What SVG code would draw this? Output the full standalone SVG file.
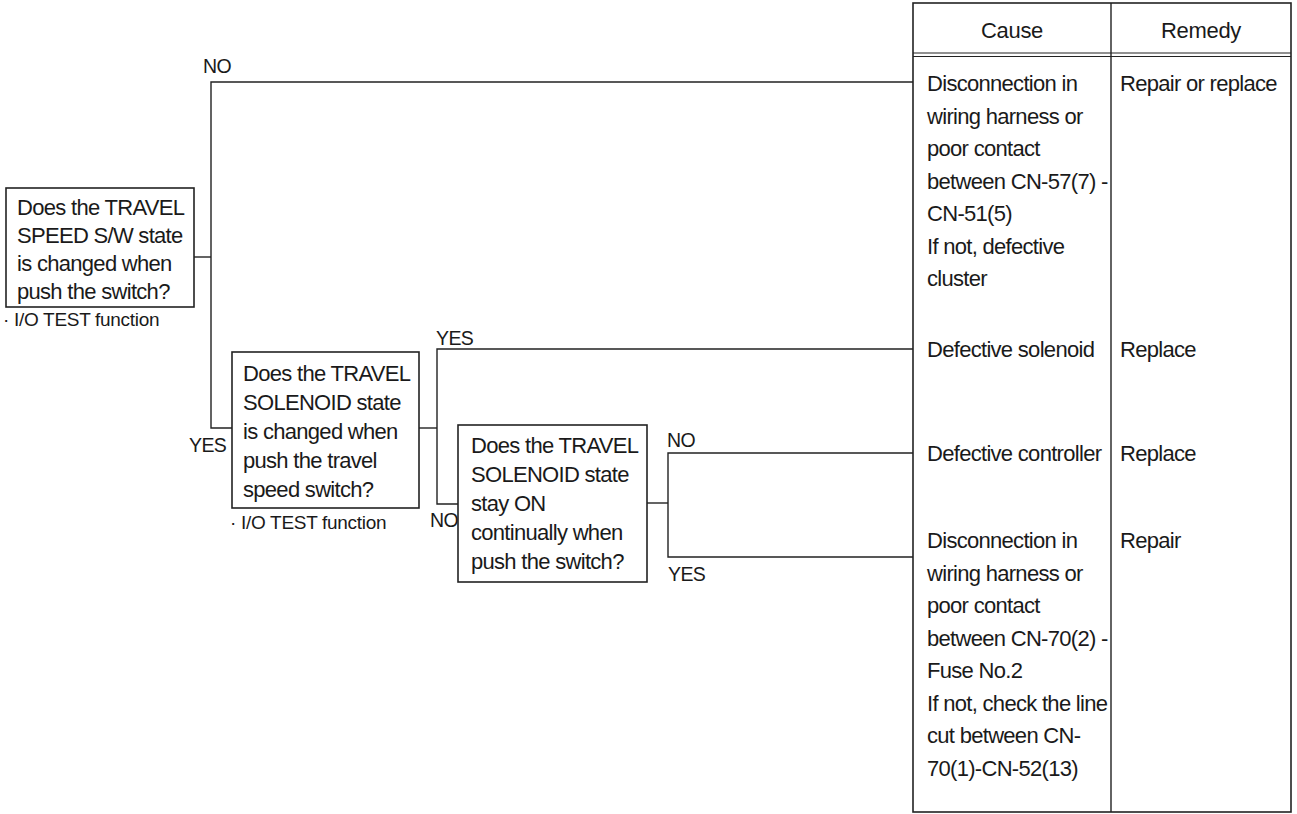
<svg xmlns="http://www.w3.org/2000/svg" width="1297" height="814" viewBox="0 0 1297 814">
<style>
.bx{fill:#fff;stroke:#222;stroke-width:1.6}
.ln{fill:none;stroke:#222;stroke-width:1.4}
.t{font-family:"Liberation Sans",Arial,Helvetica,sans-serif;font-size:22px;fill:#1a1a1a;letter-spacing:-0.7px}
.h{font-family:"Liberation Sans",Arial,Helvetica,sans-serif;font-size:22px;fill:#1a1a1a;text-anchor:middle;letter-spacing:-0.3px}
.s{font-family:"Liberation Sans",Arial,Helvetica,sans-serif;font-size:19px;fill:#1a1a1a;letter-spacing:-0.3px}
.l{font-family:"Liberation Sans",Arial,Helvetica,sans-serif;font-size:19.5px;fill:#1a1a1a;letter-spacing:-0.6px}
</style>
<rect width="1297" height="814" fill="#fff"/>
<g id="table">
<rect class="bx" x="913" y="3" width="378" height="809"/>
<line class="ln" x1="1111" y1="3" x2="1111" y2="812"/>
<line class="ln" x1="913" y1="53" x2="1291" y2="53" style="stroke-width:1"/>
<line class="ln" x1="913" y1="56.5" x2="1291" y2="56.5" style="stroke-width:1"/>
<text class="h" x="1012" y="38">Cause</text>
<text class="h" x="1201" y="38">Remedy</text>
</g>
<g id="connectors">
<polyline class="ln" points="194,257 211,257"/>
<polyline class="ln" points="913,82 211,82 211,428 232,428"/>
<polyline class="ln" points="419,428 437,428"/>
<polyline class="ln" points="913,349 437,349 437,504 458,504"/>
<polyline class="ln" points="647,503 668,503"/>
<polyline class="ln" points="913,453 668,453 668,557 913,557"/>
</g>
<g id="labels">
<text class="l" x="203" y="73">NO</text>
<text class="l" x="189" y="452">YES</text>
<text class="l" x="436" y="345">YES</text>
<text class="l" x="430" y="527">NO</text>
<text class="l" x="667" y="447">NO</text>
<text class="l" x="668" y="581">YES</text>
</g>
<g id="q1">
<rect class="bx" x="6" y="188" width="188" height="119"/>
<text class="t" x="17" y="215">Does the TRAVEL</text>
<text class="t" x="17" y="243">SPEED S/W state</text>
<text class="t" x="17" y="271">is changed when</text>
<text class="t" x="17" y="299">push the switch?</text>
<text class="s" x="3" y="326">· I/O TEST function</text>
</g>
<g id="q2">
<rect class="bx" x="232" y="352" width="187" height="156"/>
<text class="t" x="243" y="381">Does the TRAVEL</text>
<text class="t" x="243" y="410">SOLENOID state</text>
<text class="t" x="243" y="439">is changed when</text>
<text class="t" x="243" y="468">push the travel</text>
<text class="t" x="243" y="497">speed switch?</text>
<text class="s" x="230" y="529">· I/O TEST function</text>
</g>
<g id="q3">
<rect class="bx" x="458" y="425" width="189" height="157"/>
<text class="t" x="471" y="453">Does the TRAVEL</text>
<text class="t" x="471" y="482">SOLENOID state</text>
<text class="t" x="471" y="511">stay ON</text>
<text class="t" x="471" y="540">continually when</text>
<text class="t" x="471" y="569">push the switch?</text>
</g>
<g id="r1">
<text class="t" x="927" y="91">Disconnection in</text>
<text class="t" x="927" y="123.5">wiring harness or</text>
<text class="t" x="927" y="156">poor contact</text>
<text class="t" x="927" y="188.5">between CN-57(7) -</text>
<text class="t" x="927" y="221">CN-51(5)</text>
<text class="t" x="927" y="253.5">If not, defective</text>
<text class="t" x="927" y="286">cluster</text>
<text class="t" x="1120" y="91">Repair or replace</text>
</g>
<g id="r2">
<text class="t" x="927" y="357">Defective solenoid</text>
<text class="t" x="1120" y="357">Replace</text>
</g>
<g id="r3">
<text class="t" x="927" y="461">Defective controller</text>
<text class="t" x="1120" y="461">Replace</text>
</g>
<g id="r4">
<text class="t" x="927" y="548">Disconnection in</text>
<text class="t" x="927" y="580.5">wiring harness or</text>
<text class="t" x="927" y="613">poor contact</text>
<text class="t" x="927" y="645.5">between CN-70(2) -</text>
<text class="t" x="927" y="678">Fuse No.2</text>
<text class="t" x="927" y="710.5">If not, check the line</text>
<text class="t" x="927" y="743">cut between CN-</text>
<text class="t" x="927" y="775.5">70(1)-CN-52(13)</text>
<text class="t" x="1120" y="548">Repair</text>
</g>
</svg>
